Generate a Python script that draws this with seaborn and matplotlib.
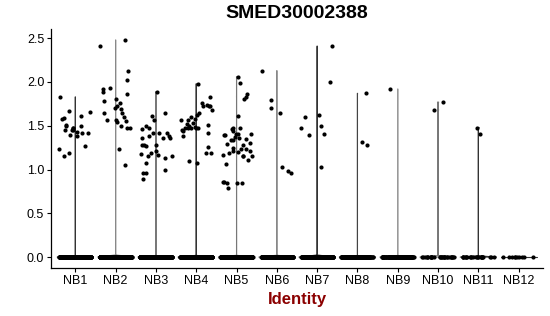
import numpy as np
import pandas as pd
import matplotlib
matplotlib.use("Agg")
import matplotlib.pyplot as plt
import seaborn as sns

categories = ["NB1", "NB2", "NB3", "NB4", "NB5", "NB6", "NB7", "NB8", "NB9", "NB10", "NB11", "NB12"]

# non-zero expression values per cluster
nb1 = [1.45, 1.42, 1.23, 1.19, 1.15, 1.58, 1.45, 1.40, 1.45, 1.38, 1.47, 1.50, 1.51, 1.42,
       1.83, 1.61, 1.48, 1.43, 1.59, 1.50, 1.27, 1.66, 1.67]
nb2 = [1.92, 1.80, 1.70, 1.78, 1.76, 1.54, 1.50, 1.64, 1.60, 1.57, 1.56, 2.48, 2.41, 1.93,
       2.12, 1.86, 1.73, 1.48, 1.48, 1.55, 2.02, 1.89, 1.69, 1.64, 1.23, 1.05]
nb3 = [1.42, 1.47, 1.36, 1.36, 1.57, 1.64, 1.46, 1.42, 1.50, 1.42, 1.38, 1.36, 1.38, 1.61,
       1.89, 1.28, 1.28, 1.27, 1.28, 1.21, 1.16, 1.19, 0.89, 0.99, 0.96, 1.16, 1.08, 1.17,
       1.18, 1.13, 0.96]
nb4 = [1.68, 1.74, 1.72, 1.83, 1.57, 1.45, 1.49, 1.60, 1.72, 1.48, 1.98, 1.73, 1.58, 1.51,
       1.57, 1.50, 1.48, 1.47, 1.52, 1.76, 1.47, 1.44, 1.42, 1.47, 1.53, 1.65, 1.62, 1.38,
       1.26, 1.19, 1.19, 1.10, 1.08]
nb5 = [1.83, 2.06, 1.86, 1.41, 1.36, 1.35, 1.39, 1.41, 1.46, 1.47, 1.41, 1.47, 1.34, 1.23,
       1.24, 1.21, 1.15, 1.44, 1.39, 1.37, 1.34, 1.29, 1.30, 1.28, 1.99, 1.80, 1.61, 1.15,
       1.21, 1.11, 1.06, 1.19, 1.17, 1.16, 0.79, 0.85, 0.86, 0.85, 0.85, 0.86, 1.25, 1.20]
nb6 = [2.13, 1.70, 1.79, 1.65, 1.03, 0.98, 0.96]
nb7 = [2.41, 1.48, 1.41, 1.60, 1.62, 1.50, 1.40, 2.00, 1.03]
nb8 = [1.87, 1.31, 1.28]
nb9 = [1.92]
nb10 = [1.68, 1.77]
nb11 = [1.48, 1.41]
nb12 = []

nonzero = [nb1, nb2, nb3, nb4, nb5, nb6, nb7, nb8, nb9, nb10, nb11, nb12]
zero_counts = [300, 280, 300, 300, 280, 200, 200, 160, 130, 30, 24, 10]

line_shades = ["#333333", "#888888", "#777777", "#333333", "#777777", "#888888",
               "#333333", "#444444", "#999999", "#777777", "#333333", "#333333"]

rows = []
for cat, vals, nz in zip(categories, nonzero, zero_counts):
    for v in vals:
        rows.append((cat, v))
    for _ in range(nz):
        rows.append((cat, 0.0))
df = pd.DataFrame(rows, columns=["Identity", "expr"])

sns.set_theme(style="ticks")
plt.rcParams["font.family"] = ["Liberation Sans", "DejaVu Sans"]
plt.rcParams["text.color"] = "black"

fig = plt.figure(figsize=(5.5, 3.16), dpi=100)
ax = fig.add_axes([0.093, 0.152, 0.894, 0.756])

sns.violinplot(data=df, x="Identity", y="expr", hue="Identity", order=categories,
               hue_order=categories, palette=line_shades, fill=False, legend=False,
               cut=0, bw_adjust=0.01, density_norm="width", width=0.9,
               inner=None, linewidth=0.8, ax=ax)

np.random.seed(1)
sns.stripplot(data=df, x="Identity", y="expr", order=categories, color="black",
              jitter=0.4, size=3, linewidth=0, ax=ax, zorder=3)

ax.set_ylim(-0.124, 2.604)
ax.set_xlim(-0.6, 11.6)
ax.set_yticks([0.0, 0.5, 1.0, 1.5, 2.0, 2.5])
ax.set_yticklabels(["0.0", "0.5", "1.0", "1.5", "2.0", "2.5"])
ax.set_ylabel("")
ax.set_xlabel("Identity", fontsize=12, fontweight="bold", color="#8B0000", labelpad=4)
ax.set_title("SMED30002388", fontsize=14, fontweight="bold", color="black", pad=8)
ax.tick_params(axis="both", labelsize=9, length=3, width=0.8, colors="black",
               labelcolor="black", pad=2)
for s in ["top", "right"]:
    ax.spines[s].set_visible(False)
for s in ["left", "bottom"]:
    ax.spines[s].set_color("black")
    ax.spines[s].set_linewidth(0.9)

fig.savefig("out.png", dpi=100)
